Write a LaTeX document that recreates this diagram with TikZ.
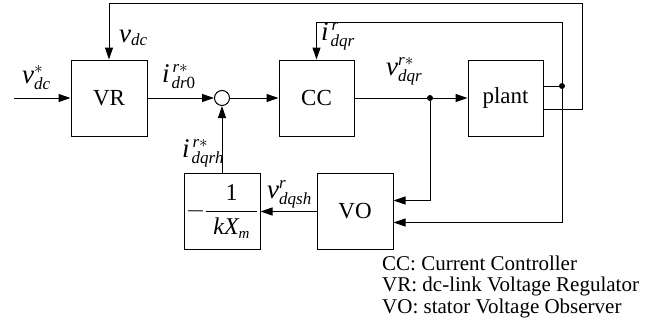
\documentclass[tikz,border=0pt]{standalone}
\usepackage{amsmath}
\usepackage{fontspec}
\setmainfont{Liberation Serif}
\usetikzlibrary{arrows.meta,positioning,calc}

\DeclareMathSizes{27}{27}{17}{12}
\DeclareMathSizes{24}{24}{15}{11}
\newcommand{\mi}[1]{\mathit{#1}}

\tikzset{
  blk/.style    = {rectangle, draw, line width=1pt, minimum width=76pt, minimum height=76pt,
                   inner sep=0pt, font=\fontsize{23}{26}\selectfont},
  sumj/.style   = {circle, draw, line width=1pt, minimum size=15pt, inner sep=0pt},
  wire/.style   = {line width=1pt},
  sig/.style    = {wire, -{Triangle[length=12pt,width=8pt]}},
  jdot/.style   = {circle, fill, inner sep=0pt, minimum size=6pt},
  lbl/.style    = {font=\fontsize{27}{30}\selectfont, inner sep=0pt, anchor=base west},
  legend/.style = {font=\fontsize{21}{24}\selectfont, anchor=base west, inner sep=0pt},
}

\begin{document}
\begin{tikzpicture}[x=1pt, y=-1pt]
  \useasboundingbox (0,0) rectangle (663,332);

  % blocks
  \node[blk] (vr)    at (109,98)    {VR};
  \node[sumj] (sum)  at (222,98)    {};
  \node[blk, minimum width=75pt] (cc)    at (316.5,98) {CC};
  \node[blk, minimum width=75pt] (plant) at (505.5,98) {plant};
  \node[blk] (vo)    at (355,211.5) {VO};
  \node[blk, font=\fontsize{24}{27}\selectfont] (gain) at (222,211.5)
    {$-\dfrac{\mathrm{1}}{\hspace{7pt}\mi{kX}_{\mi{m}}\hspace{7pt}}$};

  % branch points and corners
  \coordinate (vin) at (14,98);
  \node[jdot] (d1) at (430,98) {};
  \node[jdot] (d2) at (562,86) {};
  \coordinate (tr) at (582,3);
  \coordinate (ct) at (562,22);

  % signals
  \draw[sig] (vin) -- (vr);
  \draw[sig] (vr) -- (sum);
  \draw[sig] (sum) -- (cc);
  \draw[wire] (cc) -- (d1);
  \draw[sig] (d1) -- (plant);
  \draw[sig] (d1) |- ([yshift=11pt]vo.east);
  \draw[sig] (vo) -- (gain);
  \draw[sig] (gain) -- (sum);
  \draw[wire] ([yshift=12pt]plant.east) -- (d2);
  \draw[sig] ([yshift=-11pt]plant.east) -| (tr) -| (vr.north);
  \draw[sig] (d2) |- (ct) -| (cc.north);
  \draw[sig] (d2) |- ([yshift=-11pt]vo.east);

  % signal labels
  \node[lbl] (lvdcs)  at (22,83)   {$\mi{v}_{\mi{dc}}^{*}$};
  \node[lbl] (lvdc)   at (119,42)  {$\mi{v}_{\mi{dc}}$};
  \node[lbl] (lidr)   at (162,82)  {$\mi{i}_{\mkern2mu\mi{dr}\mathrm{0}}^{\mkern3mu\mi{r}*}$};
  \node[lbl] (lidqrh) at (182,157) {$\mi{i}_{\mkern2mu\mi{dqrh}}^{\mkern3mu\mi{r}*}$};
  \node[lbl] (lidqr)  at (321,40)  {$\mi{i}_{\mkern2mu\mi{dqr}}^{\mkern3mu\mi{r}}$};
  \node[lbl] (lvdqr)  at (386,75)  {$\mi{v}_{\mi{dqr}}^{\mi{r}*}$};
  \node[lbl] (lvdqsh) at (267,198) {$\mi{v}_{\mi{dqsh}}^{\mi{r}}$};

  % legend
  \node[legend] (leg1) at (382,270)   {CC: Current Controller};
  \node[legend] (leg2) at (382,291.5) {VR: dc-link Voltage Regulator};
  \node[legend] (leg3) at (382,313)   {VO: stator Voltage Observer};
\end{tikzpicture}
\end{document}
